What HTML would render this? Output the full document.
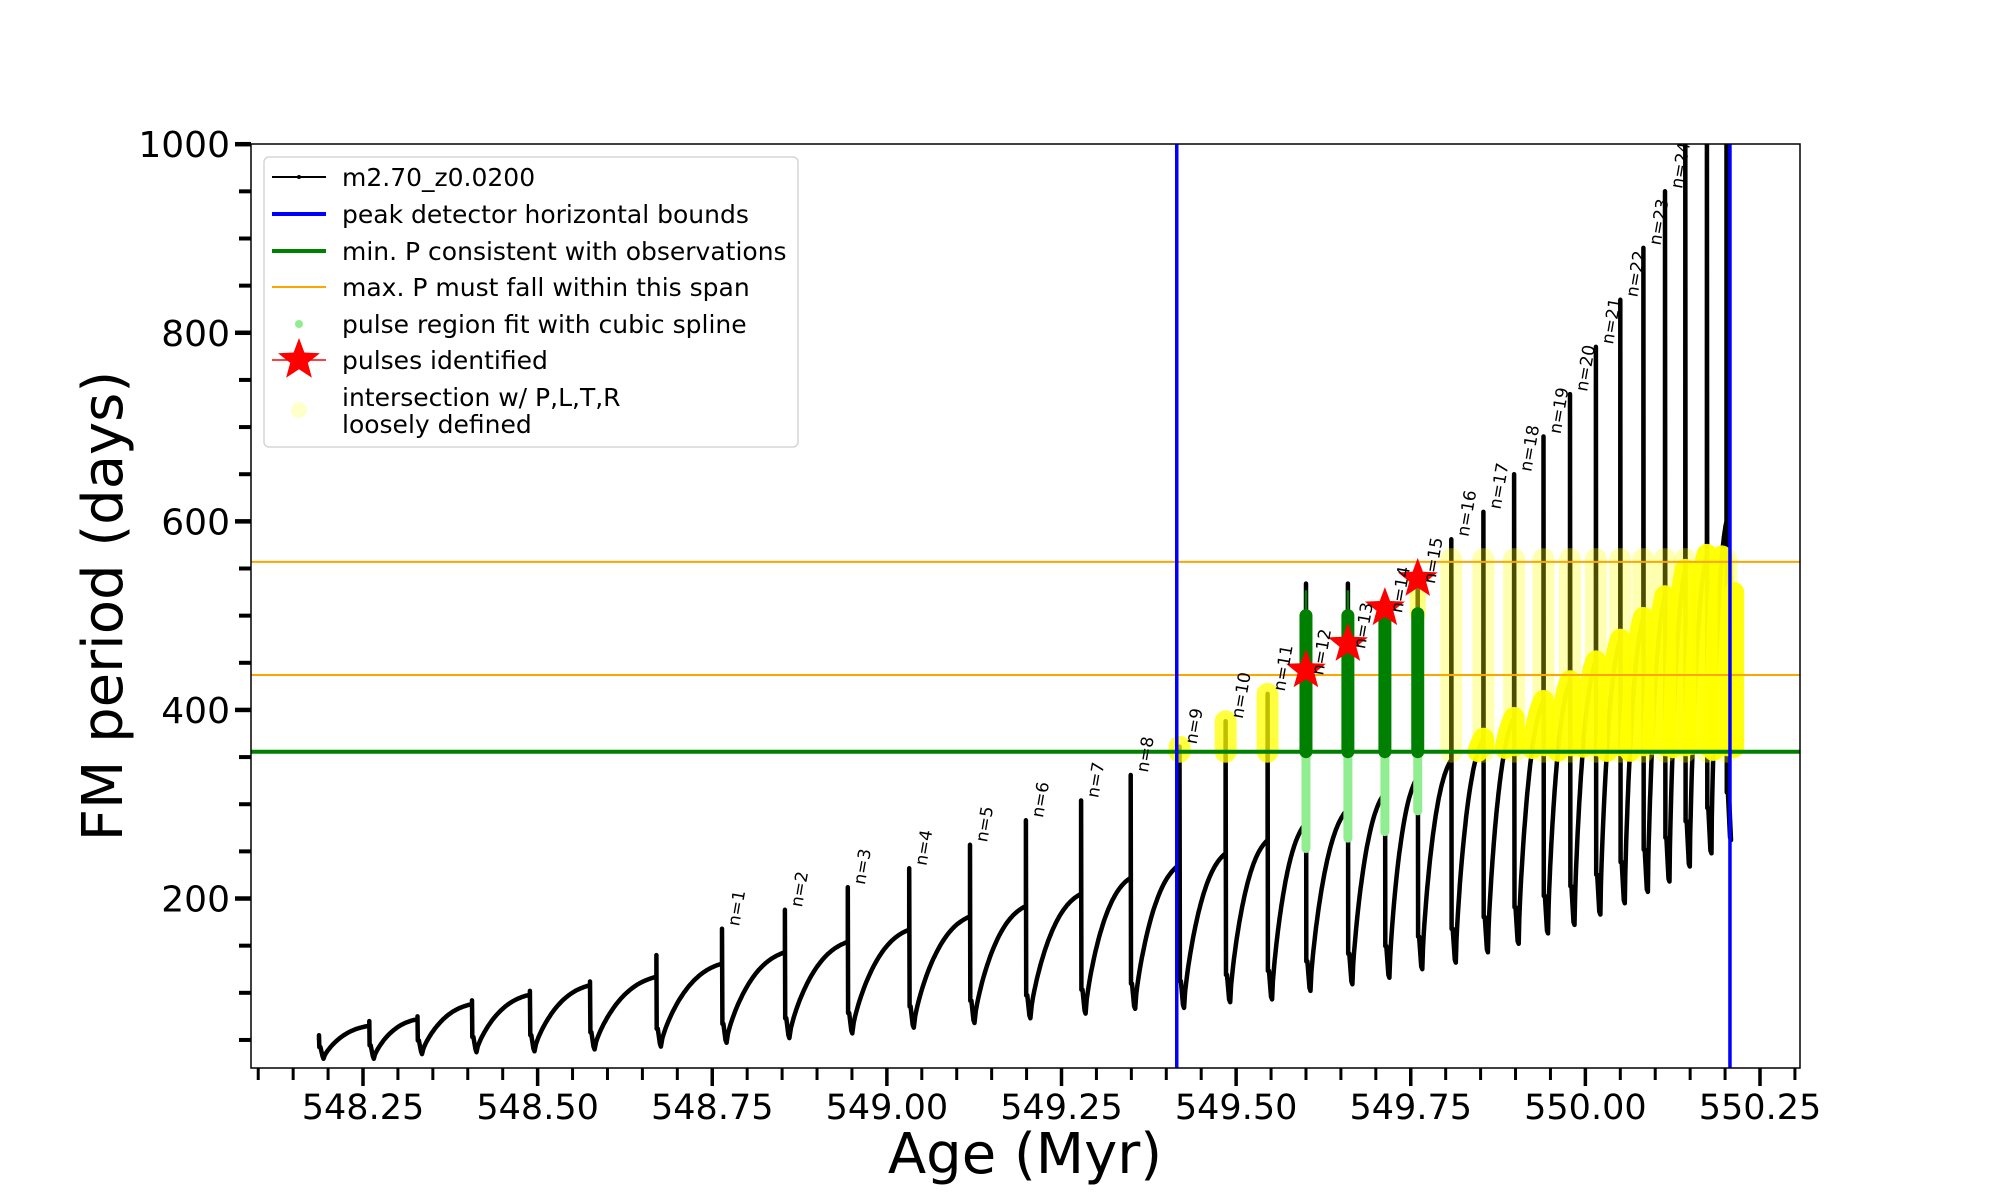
<!DOCTYPE html>
<html><head><meta charset="utf-8"><style>
html,body{margin:0;padding:0;background:#fff;}
svg{display:block;font-family:"DejaVu Sans","Liberation Sans",sans-serif;}
</style></head><body>
<svg id="chart" width="2000" height="1200" viewBox="0 0 2000 1200" xmlns="http://www.w3.org/2000/svg">
<defs><clipPath id="plotclip"><rect x="251" y="144" width="1549" height="924"/></clipPath></defs>
<rect x="0" y="0" width="2000" height="1200" fill="#fff"/>
<g id="plot" clip-path="url(#plotclip)"></g>
<rect x="251" y="144" width="1549" height="924" fill="none" stroke="#000" stroke-width="1.5"/>
<g id="axes"></g>
<text x="1025" y="1173" font-size="56" text-anchor="middle">Age (Myr)</text>
<text x="0" y="0" font-size="56" text-anchor="middle" transform="translate(122,606) rotate(-90)">FM period (days)</text>
<g id="legend">
<rect x="264" y="157" width="534" height="290" rx="5" fill="#fff" fill-opacity="0.85" stroke="#d6d6d6" stroke-width="1.5"/>
<g><line x1="272" y1="177" x2="326" y2="177" stroke="#000" stroke-width="2"/><circle cx="299" cy="177" r="2" fill="#000"/><text x="342" y="186" font-size="25">m2.70_z0.0200</text></g>
<g><line x1="272" y1="214" x2="326" y2="214" stroke="#0000ff" stroke-width="4"/><text x="342" y="223" font-size="25">peak detector horizontal bounds</text></g>
<g><line x1="272" y1="251" x2="326" y2="251" stroke="#008000" stroke-width="4"/><text x="342" y="260" font-size="25">min. P consistent with observations</text></g>
<g><line x1="272" y1="287" x2="326" y2="287" stroke="#ffa500" stroke-width="2"/><text x="342" y="296" font-size="25">max. P must fall within this span</text></g>
<g><circle cx="299" cy="324" r="4" fill="#90ee90"/><text x="342" y="333" font-size="25">pulse region fit with cubic spline</text></g>
<g><polygon id="legstar" fill="#ff0000"/><line x1="272" y1="360" x2="326" y2="360" stroke="#ff0000" stroke-width="1.5"/><text x="342" y="369" font-size="25">pulses identified</text></g>
<g><circle cx="299" cy="410" r="8" fill="#ffff66" fill-opacity="0.35"/><text x="342" y="406" font-size="25">intersection w/ P,L,T,R</text><text x="342" y="433" font-size="25">loosely defined</text></g>
</g>
</svg>
<script>
// ---- data ----
const spikeAges = [548.187,548.259,548.328,548.406,548.489,548.575,548.670,548.764,548.854,548.944,549.032,549.119,549.199,549.278,549.349,549.419,549.485,549.545,549.600,549.660,549.713,549.760,549.808,549.854,549.898,549.940,549.978,550.015,550.050,550.083,550.114,550.143,550.174,550.202];
const curveMax = [50,65,72,88,98,108,117,131,143,154,167,181,192,205,222,236,248,262,280,295,312,329,347,370,392,410,431,452,475,498,521,549,565,600];
const spikeTop = [55,70,75,92,102,112,140,168,188,212,232,257,283,304,331,361,388,417,534,534,515,545,581,610,650,690,735,785,835,890,950,1050,1050,1050];
const dipMin = [30,30,35,37,38,40,43,47,52,57,63,68,73,78,83,84,90,93,102,109,116,125,132,143,152,163,172,183,195,207,218,234,248,262];
const labelN = [1,2,3,4,5,6,7,8,9,10,11,12,13,14,15,16,17,18,19,20,21,22,23,24];
const labelIndex = [7,8,9,10,11,12,13,14,15,16,17,18,19,20,21,22,23,24,25,26,27,28,29,30];
const pulseIndex = [18,19,20,21];
const pulsePeriod = [442,470,508,539];
const splineBottom = [253,264,271,293];
const splineTop = [500,500,503,502];
const boundAges = [549.415,550.207];
const minP = [355.7];
const maxPSpan = [437,557];
const xTicks = [548.25,548.50,548.75,549.00,549.25,549.50,549.75,550.00,550.25];
const xTickLabels = ["548.25","548.50","548.75","549.00","549.25","549.50","549.75","550.00","550.25"];
const yTicks = [200,400,600,800,1000];
const yTickLabels = ["200","400","600","800","1000"];

// ---- scales ----
const X = a => 363 + (a - 548.25) * 698.5;
const Y = v => 144.2 + (1000 - v) * 0.9429;
const NS = "http://www.w3.org/2000/svg";
const plot = document.getElementById('plot');
const axes = document.getElementById('axes');
function mk(tag, attrs, parent){const e=document.createElementNS(NS,tag);for(const k in attrs)e.setAttribute(k,attrs[k]);parent.appendChild(e);return e;}
function starPts(cx,cy,R){const r=R*0.42;let p=[];for(let i=0;i<10;i++){const ang=-Math.PI/2+i*Math.PI/5;const rr=i%2?r:R;p.push((cx+rr*Math.cos(ang)).toFixed(1)+','+(cy+rr*Math.sin(ang)).toFixed(1));}return p.join(' ');}
document.getElementById('legstar').setAttribute('points', starPts(299,360,22));

// ---- build curve ----
const rise = t => 0.55*(1-Math.pow(1-t,2.4)) + 0.45*Math.sqrt(t);
let pts = [];
let arcs = [];
for (let i=0;i<spikeAges.length;i++){
  const a0 = spikeAges[i];
  pts.push([a0, curveMax[i]]);
  pts.push([a0, spikeTop[i]]);
  const mn = dipMin[i];
  const shelf = mn + 0.12*(curveMax[i]-mn) + 10;
  pts.push([a0+0.0005, shelf]);
  pts.push([a0+0.002, shelf]);
  pts.push([a0+0.005, mn+3]);
  pts.push([a0+0.0065, mn]);
  if (i+1 < spikeAges.length){
    const a1 = spikeAges[i+1], mx = curveMax[i+1];
    const s = a0+0.0065;
    let arc=[];
    for (let k=1;k<=40;k++){
      const t=k/40; const a=s+t*(a1-s); const v=mn+(mx-mn)*rise(t);
      pts.push([a,v]);
      if (v>355.7 && v<=566) arc.push([a,v]);
    }
    if (arc.length>1){ arc.push([a1+0.001, 362]); arcs.push(arc); }
  } else {
    pts.push([a0+0.004, mn+40]);
  }
}
const curve = mk('polyline',{points:pts.map(p=>X(p[0]).toFixed(1)+','+Y(p[1]).toFixed(1)).join(' '),fill:'none',stroke:'#000','stroke-width':4.5,'stroke-linejoin':'round'},plot);



// yellow intersection columns along spikes
for (let i=15;i<spikeAges.length;i++){
  if (pulseIndex.includes(i)) continue;
  const top = Math.min(spikeTop[i], 560);
  const strong = (i<=17);
  const ln = mk('line',{x1:X(spikeAges[i]),x2:X(spikeAges[i]),y1:Y(355.7),y2:Y(top),stroke:'#ffff00','stroke-width':22,'stroke-linecap':'round','stroke-opacity':strong?0.75:0.3},plot);
  
  
}
// yellow arcs
arcs.forEach(arc=>{
  const pl = mk('polyline',{points:arc.map(p=>X(p[0]).toFixed(1)+','+Y(p[1]).toFixed(1)).join(' '),fill:'none',stroke:'#ffff00','stroke-width':21,'stroke-linecap':'round','stroke-linejoin':'round','stroke-opacity':0.95},plot);
  
  
});
const endBlob = mk('line',{x1:X(spikeAges[33]+0.011),x2:X(spikeAges[33]+0.011),y1:Y(360),y2:Y(525),stroke:'#ffff00','stroke-width':20,'stroke-linecap':'round','stroke-opacity':0.95},plot);



// horizontal reference lines
maxPSpan.forEach(v=>{
  const l = mk('line',{x1:251,x2:1800,y1:Y(v),y2:Y(v),stroke:'#ffa500','stroke-width':2},plot);
  
  
});
minP.forEach(v=>{
  const l = mk('line',{x1:251,x2:1800,y1:Y(v),y2:Y(v),stroke:'#008000','stroke-width':4},plot);
  
  
});

// pulses: spline region
pulseIndex.forEach((idx,j)=>{
  const x = X(spikeAges[idx]);
  const lg = mk('line',{x1:x,x2:x,y1:Y(355.7),y2:Y(splineBottom[j]),stroke:'#90ee90','stroke-width':9,'stroke-linecap':'round'},plot);
  
  
  if (j<2){
    const th = mk('line',{x1:x,x2:x,y1:Y(355.7),y2:Y(spikeTop[idx]-7),stroke:'#008000','stroke-width':2.5},plot);
    
    
  } else {
    const yl = mk('line',{x1:x,x2:x,y1:Y(splineTop[j]),y2:Y(pulsePeriod[j]),stroke:'#ffff00','stroke-width':16,'stroke-linecap':'round','stroke-opacity':0.5},plot);
    
    
  }
  const dg = mk('line',{x1:x,x2:x,y1:Y(355.7),y2:Y(splineTop[j]),stroke:'#008000','stroke-width':13,'stroke-linecap':'round'},plot);
  
  
});
// vertical bounds
boundAges.forEach(a=>{
  const l = mk('line',{x1:X(a),x2:X(a),y1:144,y2:1068,stroke:'#0000ff','stroke-width':3.5},plot);
  
  
});
// stars
pulseIndex.forEach((idx,j)=>{
  const s = mk('polygon',{points:starPts(X(spikeAges[idx]),Y(pulsePeriod[j]),21),fill:'#ff0000'},plot);
  
  
});
// n labels
labelIndex.forEach((idx,j)=>{
  const pi = pulseIndex.indexOf(idx);
  const v = pi>=0 ? pulsePeriod[pi]-8 : spikeTop[idx];
  const x = X(spikeAges[idx])+17, y = Y(v)-2;
  const t = mk('text',{x:0,y:0,'font-size':17,transform:`translate(${x.toFixed(1)},${y.toFixed(1)}) rotate(-80)`},plot);
  t.textContent = 'n=' + labelN[j];
  
  
});

// ---- axes ticks ----
for (let k=0;k<=45;k++){
  const a = 548.10 + k*0.05;
  const major = xTicks.some(m=>Math.abs(m-a)<1e-6);
  if (major) continue;
  const x = X(a); if (x<251||x>1800) continue;
  const tk = mk('line',{x1:x,x2:x,y1:1068,y2:1080,stroke:'#000','stroke-width':3},axes);
  
  
}
xTicks.forEach((a,j)=>{
  const x=X(a);
  const tk = mk('line',{x1:x,x2:x,y1:1068,y2:1086,stroke:'#000','stroke-width':3.5},axes);
  
  
  const t = mk('text',{x:x,y:1119,'font-size':35,'text-anchor':'middle'},axes);
  t.textContent = xTickLabels[j];
  
  
});
for (let v=50; v<=1000; v+=50){
  if (yTicks.includes(v)) continue;
  const tk = mk('line',{x1:239,x2:251,y1:Y(v),y2:Y(v),stroke:'#000','stroke-width':4},axes);
  
  
}
yTicks.forEach((v,j)=>{
  const y=Y(v);
  const tk = mk('line',{x1:235,x2:251,y1:y,y2:y,stroke:'#000','stroke-width':4.5},axes);
  
  
  const t = mk('text',{x:230,y:y+13,'font-size':36,'text-anchor':'end'},axes);
  t.textContent = yTickLabels[j];
  
  
});
</script>
</body></html>
